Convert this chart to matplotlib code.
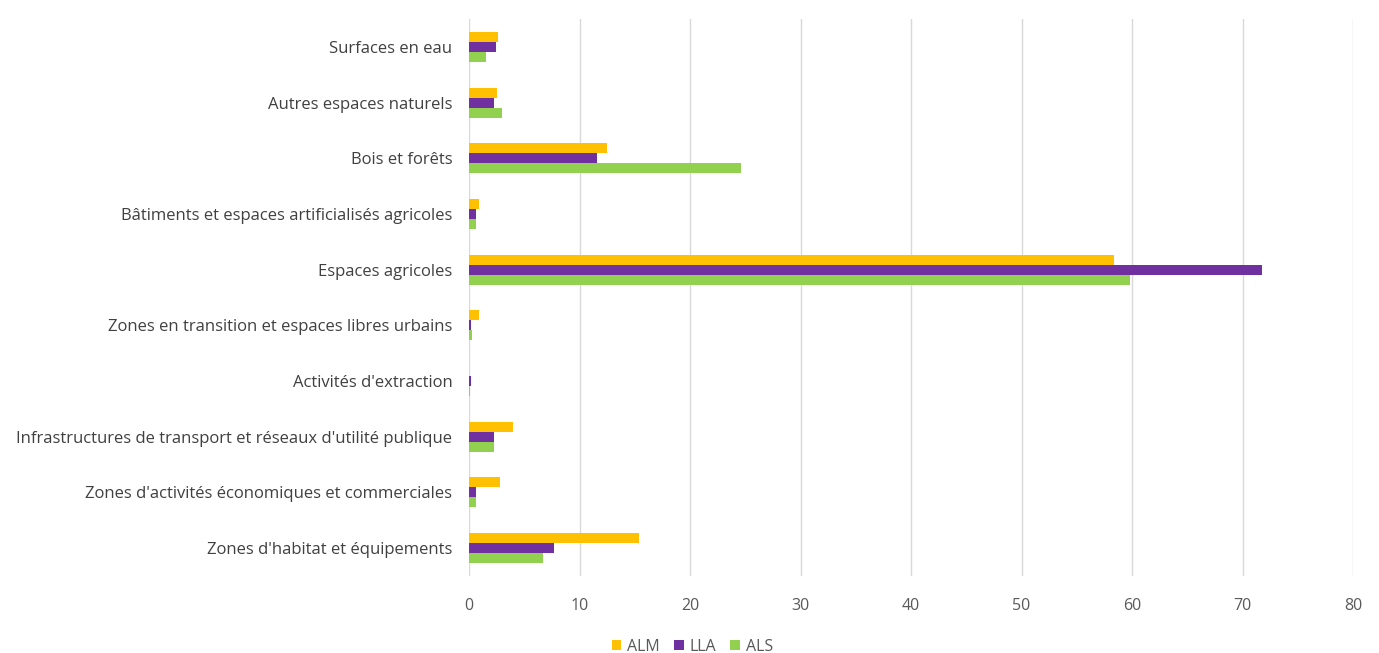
import matplotlib.pyplot as plt
import numpy as np

categories = [
    "Surfaces en eau",
    "Autres espaces naturels",
    "Bois et forêts",
    "Bâtiments et espaces artificialisés agricoles",
    "Espaces agricoles",
    "Zones en transition et espaces libres urbains",
    "Activités d'extraction",
    "Infrastructures de transport et réseaux d'utilité publique",
    "Zones d'activités économiques et commerciales",
    "Zones d'habitat et équipements",
]
alm = [2.6, 2.5, 12.5, 0.9, 58.4, 0.9, 0.0, 4.0, 2.8, 15.4]
lla = [2.4, 2.3, 11.6, 0.6, 71.8, 0.2, 0.2, 2.3, 0.6, 7.7]
als = [1.5, 3.0, 24.6, 0.6, 59.8, 0.3, 0.1, 2.3, 0.6, 6.7]
series = [("ALM", alm, "#FFC000"), ("LLA", lla, "#7030A0"), ("ALS", als, "#92D050")]

plt.rcParams['font.family'] = ['Open Sans', 'DejaVu Sans']
fig = plt.figure(figsize=(13.79, 6.53), dpi=100)
ax = fig.add_axes([469 / 1379, 1 - 576 / 653, (1353 - 469) / 1379, (576 - 19) / 653])

y = np.arange(len(categories))
h = 0.18
for i, (name, vals, color) in enumerate(series):
    ax.barh(y + (i - 1) * h, vals, height=h, color=color, label=name, zorder=3)

ax.set_yticks(y)
ax.set_yticklabels(categories, fontsize=12, color="#404040")
ax.set_ylim(len(categories) - 0.5, -0.5)
ax.set_xlim(0, 80)
ax.set_xticks(range(0, 81, 10))
ax.tick_params(axis='x', labelsize=11.5, labelcolor="#595959", length=0, pad=16)
ax.tick_params(axis='y', length=0, pad=12)
ax.grid(axis='x', color="#D9D9D9", linewidth=1, zorder=0)
for s in ax.spines.values():
    s.set_visible(False)

fig.legend(loc='lower center', bbox_to_anchor=(0.502, -0.025), ncol=3, frameon=False,
           fontsize=11.5, handlelength=0.6, handleheight=0.6, columnspacing=0.9,
           handletextpad=0.35, labelcolor="#595959")

fig.savefig("out.png", dpi=100)
